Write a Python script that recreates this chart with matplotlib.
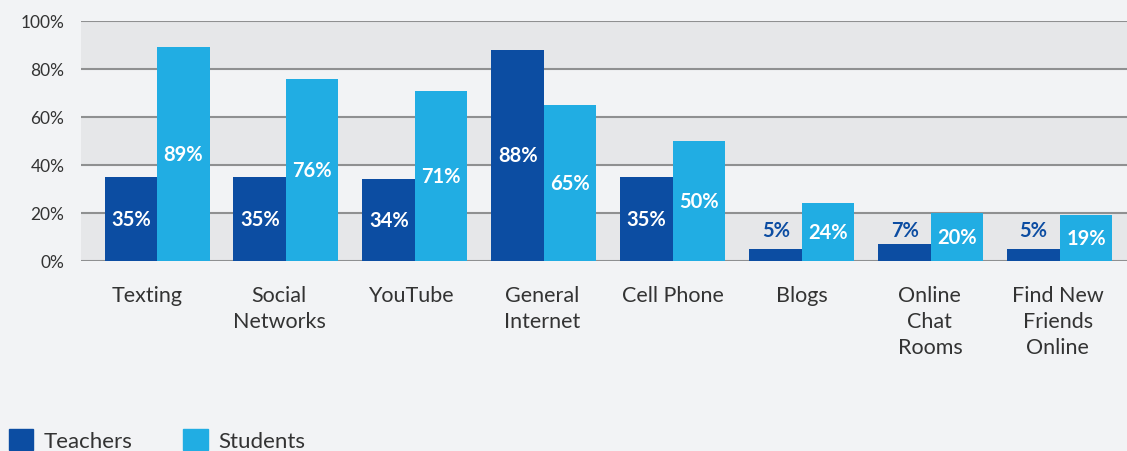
import numpy as np
import matplotlib.pyplot as plt
from matplotlib.patches import Patch
from matplotlib.transforms import ScaledTranslation

categories = ["Texting", "Social\nNetworks", "YouTube", "General\nInternet", "Cell Phone",
              "Blogs", "Online\nChat\nRooms", "Find New\nFriends\nOnline"]
teachers = [35, 35, 34, 88, 35, 5, 7, 5]
students = [89, 76, 71, 65, 50, 24, 20, 19]
yticks = [0, 20, 40, 60, 80, 100]

c_teach = "#0c4da2"
c_stud = "#21ade3"
bg = "#f2f3f5"
band = "#e6e7e9"
txt = "#333333"

plt.rcParams['font.family'] = ['Lato', 'DejaVu Sans']

fig = plt.figure(figsize=(11.27, 4.52), dpi=100, facecolor=bg)
ax = fig.add_axes([0.0719, 0.4204, 0.9281, 0.531])
ax.set_facecolor(bg)

for lo in (0, 40, 80):
    ax.axhspan(lo, lo + 20, color=band, zorder=0, lw=0)
for t in yticks:
    ax.axhline(t, color="#8f9091", lw=1.5, zorder=1)

x = np.arange(len(categories))
w = 0.407
ax.bar(x - w / 2, teachers, w, color=c_teach, zorder=2)
ax.bar(x + w / 2, students, w, color=c_stud, zorder=2)

for i in range(len(categories)):
    v = teachers[i]
    if v >= 10:
        ax.text(x[i] - w / 2, v / 2, f"{v}%", color="white", ha="center", va="center",
                fontsize=14.5, fontweight="bold", zorder=3)
    else:
        ax.text(x[i] - w / 2, 12.7, f"{v}%", color=c_teach, ha="center", va="center",
                fontsize=14.5, fontweight="bold", zorder=3)
    s = students[i]
    ax.text(x[i] + w / 2, s / 2, f"{s}%", color="white", ha="center", va="center",
            fontsize=14.5, fontweight="bold", zorder=3)

ax.set_xlim(-0.589, 7.52)
ax.set_ylim(0, 100)
ax.set_yticks(yticks)
ax.set_yticklabels([f"{t}%" for t in yticks], fontsize=12.5, color=txt)
ax.set_xticks(x)
ax.set_xticklabels(categories, fontsize=15.5, color=txt, linespacing=1.39, va="top")
ax.tick_params(axis="both", length=0)
ax.tick_params(axis="x", pad=17)
ax.tick_params(axis="y", pad=12)
for sp in ax.spines.values():
    sp.set_visible(False)

# the source nudges the first few labels a little to the left
shift_px = [-10, -7, -4, -2, 0, 0, -1, -2]
for lab, dx in zip(ax.get_xticklabels(), shift_px):
    lab.set_transform(lab.get_transform() + ScaledTranslation(dx / 100, 0, fig.dpi_scale_trans))

handles = [Patch(color=c_teach, label="Teachers"), Patch(color=c_stud, label="Students")]
fig.legend(handles=handles, loc="upper left", bbox_to_anchor=(0.008, 0.0487), ncol=2,
           frameon=False, fontsize=16, handlelength=1.1, handleheight=1.1,
           columnspacing=2.3, handletextpad=0.45, borderaxespad=0, borderpad=0,
           labelcolor=txt)

fig.savefig("out.png", dpi=100, facecolor=bg)
